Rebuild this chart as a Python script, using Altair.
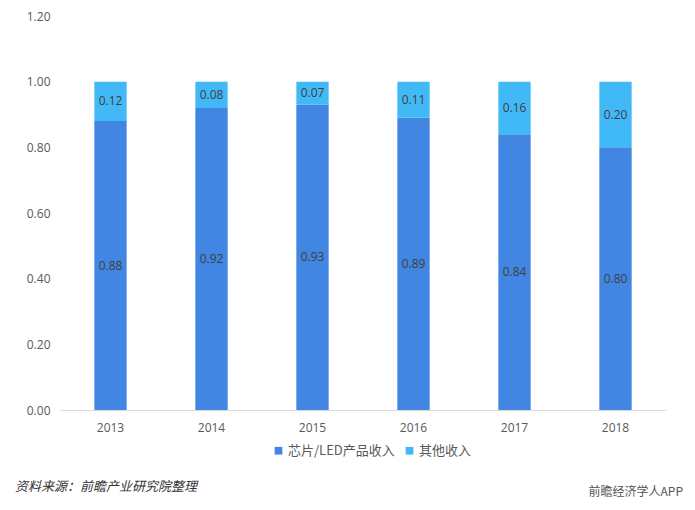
import altair as alt
import pandas as pd

years = ["2013", "2014", "2015", "2016", "2017", "2018"]
chip_led = [0.88, 0.92, 0.93, 0.89, 0.84, 0.80]
other = [0.12, 0.08, 0.07, 0.11, 0.16, 0.20]
series_names = ["芯片/LED产品收入", "其他收入"]
colors = ["#4086E2", "#42B9F7"]
y_ticks = [0.0, 0.2, 0.4, 0.6, 0.8, 1.0, 1.2]
source_text = ["资料来源：前瞻产业研究院整理"]
logo_text = ["前瞻经济学人APP"]

rows = []
for i, y in enumerate(years):
    rows.append({"year": y, "series": series_names[0], "value": chip_led[i], "ord": 0})
    rows.append({"year": y, "series": series_names[1], "value": other[i], "ord": 1})
df = pd.DataFrame(rows)

base = alt.Chart(df).transform_stack(
    stack="value", groupby=["year"], as_=["y0", "y1"],
    sort=[alt.SortField("ord", order="ascending")]
).transform_calculate(mid="(datum.y0 + datum.y1) / 2")

x_enc = alt.X("year:N", title=None,
              scale=alt.Scale(paddingInner=0.68, paddingOuter=0.34),
              axis=alt.Axis(labelAngle=0, ticks=False, domainColor="#d9d9d9",
                            labelColor="#595959", labelFontSize=12, labelPadding=12,
                            labelFont="Open Sans"))

y_scale = alt.Scale(domain=[0, 1.2], nice=False)
y_axis = alt.Axis(values=y_ticks, format=".2f", grid=False, domain=False,
                  ticks=False, labelColor="#595959", labelFontSize=12,
                  labelPadding=10, labelFont="Open Sans")

bars = base.mark_bar().encode(
    x=x_enc,
    y=alt.Y("y0:Q", title=None, scale=y_scale, axis=y_axis),
    y2="y1:Q",
    color=alt.Color("series:N", title=None,
                    scale=alt.Scale(domain=series_names, range=colors),
                    legend=alt.Legend(orient="none", legendX=212, legendY=428,
                                      direction="horizontal", symbolType="square",
                                      symbolSize=60, labelFontSize=13,
                                      labelColor="#595959", labelFont="Noto Sans CJK SC",
                                      columnPadding=8, labelOffset=3)),
)

labels = base.mark_text(fontSize=12, color="#404040", font="Open Sans").encode(
    x=alt.X("year:N"),
    y=alt.Y("mid:Q", title=None, scale=y_scale, axis=y_axis),
    text=alt.Text("value:Q", format=".2f"),
)

source = alt.Chart(pd.DataFrame({"t": source_text})).mark_text(
    fontSize=13, color="#333333", font="Noto Sans CJK SC", fontStyle="italic",
    align="left", baseline="middle"
).encode(x=alt.value(-45), y=alt.value(471), text="t:N")

logo = alt.Chart(pd.DataFrame({"t": logo_text})).mark_text(
    fontSize=12, color="#555555", font="Noto Sans CJK SC", align="right",
    baseline="middle"
).encode(x=alt.value(623), y=alt.value(476), text="t:N")

chart = alt.layer(bars, labels, source, logo).properties(
    width=606, height=394,
    autosize=alt.AutoSizeParams(type="none"),
    padding={"left": 52, "top": 8, "right": 21, "bottom": 92},
).configure_view(stroke=None)

chart.save("out.html", embed_options={"renderer": "svg", "actions": False})
